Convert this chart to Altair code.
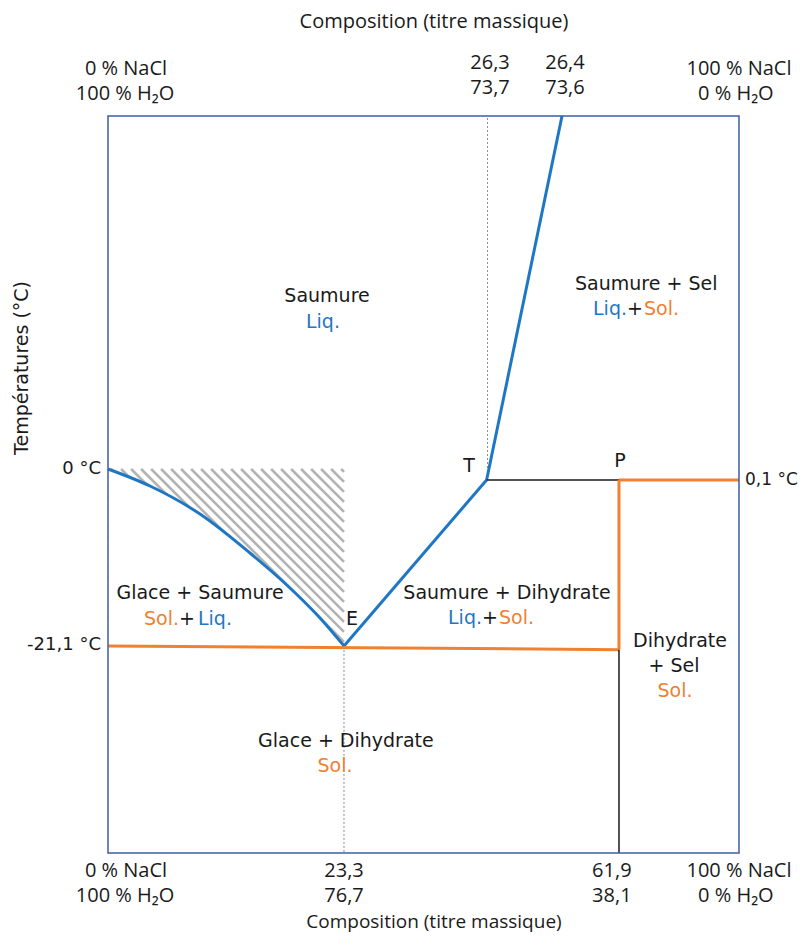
import altair as alt
import pandas as pd

# ---------------- layout / scales (schematic units) ----------------
W, H = 631, 737
X_DOM = [0, 100]          # schematic composition position
Y_DOM = [-45.8, 42.1]     # schematic temperature position

BLUE = "#1f77c4"
ORANGE = "#f08131"
BLACK = "#1a1a1a"
FRAME = "#3d5ea8"
HATCH = "#b3b3b3"
DOT = "#8a8a8a"

F_IN = "DejaVu Sans"   # labels inside / temperatures
F_AX = "Open Sans"     # composition labels

# ---------------- key points of the diagram ----------------
ice_curve_x = [0, 6.66, 14.58, 22.50, 28.84, 33.60, 37.4]
ice_curve_y = [0, -2.03, -5.37, -10.02, -14.19, -17.77, -21.1]

E_pt = (37.4, -21.1)
T_pt = (60.0, -1.31)
TOP_pt = (71.95, 42.1)
P_pt = (80.98, -1.31)
P_low = (80.98, -21.55)
LEFT_eut = (0, -21.1)
RIGHT_top = (100, -1.31)
BOTTOM = -45.8
TOPY = 42.1

# segments: (x, y, x2, y2, color, width)
seg_x = [E_pt[0], T_pt[0], T_pt[0], P_pt[0], P_pt[0], LEFT_eut[0], P_low[0]]
seg_y = [E_pt[1], T_pt[1], T_pt[1], P_pt[1], P_pt[1], LEFT_eut[1], P_low[1]]
seg_x2 = [T_pt[0], TOP_pt[0], P_pt[0], RIGHT_top[0], P_low[0], P_low[0], P_low[0]]
seg_y2 = [T_pt[1], TOP_pt[1], P_pt[1], RIGHT_top[1], P_low[1], P_low[1], BOTTOM]
seg_color = [BLUE, BLUE, BLACK, ORANGE, ORANGE, ORANGE, BLACK]
seg_width = [3, 3, 1.5, 3, 3, 3, 1.5]

dot_x = [E_pt[0], T_pt[0] + 0.15]
dot_y = [E_pt[1], T_pt[1]]
dot_y2 = [BOTTOM, TOPY]

# ---------------- hatch pattern (decorative) ----------------
px_x = W / (X_DOM[1] - X_DOM[0])
px_y = H / (Y_DOM[1] - Y_DOM[0])
rx0, rx1 = 0.0, E_pt[0] * px_x
ry0, ry1 = (TOPY - 0) * px_y, (TOPY - E_pt[1]) * px_y
hx, hy, hx2, hy2 = [], [], [], []
step = 10.0
c = -(ry1 - ry0) - 20
while c < (rx1 - rx0) + 20:
    pts = []
    for sy in (ry0, ry1):
        sx = rx0 + c + (sy - ry0)
        if rx0 <= sx <= rx1:
            pts.append((sx, sy))
    for sx in (rx0, rx1):
        sy = ry0 + (sx - rx0 - c)
        if ry0 <= sy <= ry1:
            pts.append((sx, sy))
    pts = sorted(set(pts))
    if len(pts) >= 2:
        (a, b), (a2, b2) = pts[0], pts[-1]
        hx.append(a / px_x); hy.append(TOPY - b / px_y)
        hx2.append(a2 / px_x); hy2.append(TOPY - b2 / px_y)
    c += step

# ---------------- labels ----------------
cin_text = ["Saumure", "Liq.", "Saumure + Sel", "+", "T", "P", "E",
            "Glace + Saumure", "+", "Saumure + Dihydrate", "+",
            "Dihydrate", "+ Sel", "Sol.", "Glace + Dihydrate", "Sol."]
cin_x = [34.71, 34.07, 85.3, 83.52, 57.21, 81.14, 38.67,
         14.58, 12.52, 63.23, 60.54,
         90.65, 89.7, 89.86, 37.7, 35.97]
cin_y = [20.63, 17.53, 22.06, 19.08, 0.36, 0.95, -17.89,
         -14.79, -17.89, -14.79, -17.77,
         -20.51, -23.50, -26.48, -32.44, -35.42]
cin_color = [BLACK, BLUE, BLACK, BLACK, BLACK, BLACK, BLACK,
             BLACK, BLACK, BLACK, BLACK,
             BLACK, BLACK, ORANGE, BLACK, ORANGE]

rin_text = ["Liq.", "Sol.", "Liq.", "0 °C", "-21,1 °C"]
rin_x = [82.25, 11.25, 59.27, -1.11, -1.11]
rin_y = [19.08, -17.89, -17.77, 0.0, -21.0]
rin_color = [BLUE, ORANGE, BLUE, BLACK, BLACK]
rin_size = [19, 19, 19, 18, 18]

lin_text = ["Sol.", "Liq.", "Sol.", "0,1 °C"]
lin_x = [84.94, 14.26, 61.97, 100.95]
lin_y = [19.08, -17.89, -17.77, -1.31]
lin_color = [ORANGE, BLUE, ORANGE, BLACK]
lin_size = [19, 19, 19, 17]

ax_text = ["Composition (titre massique)",
           "0 % NaCl", "100 % H₂O", "26,3", "73,7", "26,4", "73,6", "100 % NaCl", "0 % H₂O",
           "0 % NaCl", "100 % H₂O", "23,3", "76,7", "61,9", "38,1", "100 % NaCl", "0 % H₂O",
           "Composition (titre massique)"]
ax_x = [51.66,
        2.85, 2.7, 60.54, 60.54, 72.42, 72.42, 100.0, 99.5,
        2.85, 2.7, 37.4, 37.4, 79.85, 79.85, 100.0, 99.5,
        51.66]
ax_y = [53.3,
        47.71, 44.73, 48.42, 45.44, 48.42, 45.44, 47.71, 44.73,
        -47.94, -50.93, -47.94, -50.93, -47.94, -50.93, -47.94, -50.93,
        -54.03]
ax_size = [20] * 17 + [19]

ytitle_text = ["Températures (°C)"]
ytitle_x = [-13.63]
ytitle_y = [12.05]

# ---------------- build chart ----------------
xs = alt.Scale(domain=X_DOM, nice=False, zero=False)
ys = alt.Scale(domain=Y_DOM, nice=False, zero=False)


def X(f="x"):
    return alt.X(f, type="quantitative", scale=xs, axis=None)


def Y(f="y"):
    return alt.Y(f, type="quantitative", scale=ys, axis=None)


hatch = alt.Chart(pd.DataFrame({"x": hx, "y": hy, "x2": hx2, "y2": hy2})).mark_rule(
    color=HATCH, strokeWidth=2.6
).encode(x=X(), y=Y(), x2="x2", y2="y2")

curve_df = pd.DataFrame({"x": ice_curve_x, "y": ice_curve_y,
                         "yb": [E_pt[1]] * len(ice_curve_x)})
white = alt.Chart(curve_df).mark_area(color="white", opacity=1, interpolate="monotone").encode(
    x=X(), y=Y(), y2="yb")
curve = alt.Chart(curve_df).mark_line(color=BLUE, strokeWidth=3, interpolate="monotone").encode(
    x=X(), y=Y())

dots = alt.Chart(pd.DataFrame({"x": dot_x, "y": dot_y, "y2": dot_y2})).mark_rule(
    color=DOT, strokeWidth=1, strokeDash=[2, 2]).encode(x=X(), y=Y(), y2="y2")

segs = alt.Chart(pd.DataFrame({"x": seg_x, "y": seg_y, "x2": seg_x2, "y2": seg_y2,
                               "c": seg_color, "w": seg_width})).mark_rule(strokeCap="butt").encode(
    x=X(), y=Y(), x2="x2", y2="y2",
    color=alt.Color("c:N", scale=None), strokeWidth=alt.StrokeWidth("w:Q", scale=None))

frame = alt.Chart(pd.DataFrame({"x": [X_DOM[0]], "x2": [X_DOM[1]], "y": [Y_DOM[0]], "y2": [Y_DOM[1]]})).mark_rect(
    filled=False, stroke=FRAME, strokeWidth=1.5).encode(x=X(), x2="x2", y=Y(), y2="y2")


def text_layer(t, x, y, col, align, font, size):
    df = pd.DataFrame({"t": t, "x": x, "y": y, "c": col, "s": size})
    return alt.Chart(df).mark_text(align=align, baseline="middle", font=font).encode(
        x=X(), y=Y(), text="t:N", color=alt.Color("c:N", scale=None),
        size=alt.Size("s:Q", scale=None))


t_c = text_layer(cin_text, cin_x, cin_y, cin_color, "center", F_IN, [19] * len(cin_text))
t_r = text_layer(rin_text, rin_x, rin_y, rin_color, "right", F_IN, rin_size)
t_l = text_layer(lin_text, lin_x, lin_y, lin_color, "left", F_IN, lin_size)
t_ax = text_layer(ax_text, ax_x, ax_y, [BLACK] * len(ax_text), "center", F_AX, ax_size)
t_yt = alt.Chart(pd.DataFrame({"t": ytitle_text, "x": ytitle_x, "y": ytitle_y})).mark_text(
    align="center", baseline="middle", font=F_IN, fontSize=19, angle=270, color=BLACK).encode(
    x=X(), y=Y(), text="t:N")

chart = alt.layer(hatch, white, dots, segs, curve, frame, t_c, t_r, t_l, t_ax, t_yt).properties(
    width=W, height=H,
    autosize=alt.AutoSizeParams(type="none"),
    padding={"left": 100, "top": 108, "right": 61, "bottom": 82},
).configure_view(stroke=None)

chart.save("out.html", embed_options={"renderer": "svg", "actions": False})
